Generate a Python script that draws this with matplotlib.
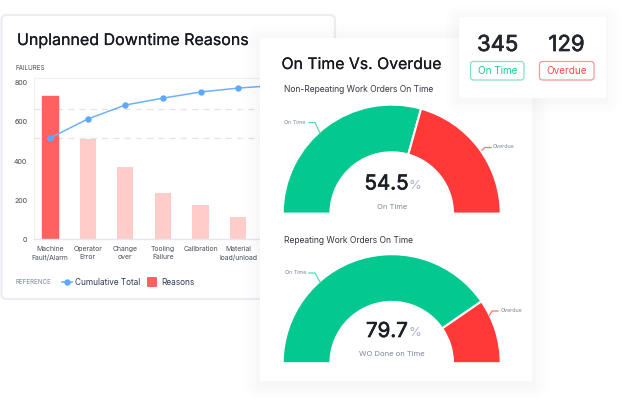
import matplotlib
matplotlib.use("Agg")
import matplotlib.pyplot as plt
import matplotlib.patheffects as pe
from matplotlib.patches import FancyBboxPatch
from matplotlib.transforms import ScaledTranslation

plt.rcParams['font.family'] = ['Inter', 'DejaVu Sans']

# ---- data ----
reasons = ["Machine\nFault/Alarm", "Operator\nError", "Change\nover", "Tooling\nFailure",
           "Calibration", "Material\nload/unload"]
failures = [721, 504, 360, 230, 170, 109]
cumulative = [509, 605, 676, 711, 742, 762, 775]
y_ticks = [0, 200, 400, 600, 800]
ref_levels = [509, 656]
gauge1_shares = [58.7, 41.3]
gauge2_shares = [80.8, 19.2]
gauge1_value = "54.5"
gauge2_value = "79.7"
on_time_count = "345"
overdue_count = "129"

GREEN = "#03C88F"
RED = "#FF3838"
W, H = 625, 405
fig = plt.figure(figsize=(W / 100, H / 100), dpi=100, facecolor="white")


def px(v):
    return v * 0.72


def bold(col, w=0.35):
    return [pe.withStroke(linewidth=w, foreground=col)]


def layer(z):
    a = fig.add_axes([0, 0, 1, 1], zorder=z)
    a.set_xlim(0, W)
    a.set_ylim(H, 0)
    a.axis("off")
    a.patch.set_alpha(0)
    return a


def box(a, x0, y0, x1, y1, r=3, **kw):
    p = FancyBboxPatch((x0 + r, y0 + r), x1 - x0 - 2 * r, y1 - y0 - 2 * r,
                       boxstyle=f"round,pad={r},rounding_size={r}", **kw)
    a.add_patch(p)
    return p


def shadow(a, x0, y0, x1, y1, spread, alpha, dy=0):
    for s in range(spread, 0, -2):
        box(a, x0 - s, y0 - s + dy, x1 + s, y1 + s + dy, r=max(s, 1),
            fc="#6A74B0", ec="none", alpha=alpha)


def axes_px(x0, y0, x1, y1, z):
    return fig.add_axes([x0 / W, 1 - y1 / H, (x1 - x0) / W, (y1 - y0) / H], zorder=z)


# ---- left card ----
bg1 = layer(0)
box(bg1, 1.5, 15, 335, 299, r=5, fc="white", ec="#ECEDF3", lw=1.6)
bg1.text(17, 40.5, "Unplanned Downtime Reasons", fontsize=px(16), color="#15181E", va="center",
         path_effects=bold("#15181E", 0.12))
bg1.text(15.5, 67.5, "FAILURES", fontsize=px(6.3), color="#4A4F5A", va="center")

ax = axes_px(33.5, 78, 322, 238.5, 1)
ax.patch.set_alpha(0)
xpos = list(range(len(reasons)))
bars = ax.bar(xpos, failures, width=0.43, color="#FFCCCA", zorder=2)
bars[0].set_color("#FF6160")
for lv in ref_levels:
    ax.axhline(lv, color="#E4E4E8", lw=0.9, dashes=(5, 4), zorder=1)
line, = ax.plot(range(len(cumulative)), cumulative, color="#6FB1F7", lw=1.1, marker="o",
                ms=3.6, mfc="#5EA9F7", mec="#5EA9F7", zorder=3)
ax.set_xlim(-0.44, 7.23)
ax.set_ylim(0, 813)
ax.set_yticks(y_ticks)
ax.set_yticklabels([str(t) for t in y_ticks], fontsize=px(7), color="#3F444D")
ax.tick_params(axis="y", length=0, pad=4.5)
for t in ax.get_yticklabels():
    t.set_transform(t.get_transform() + ScaledTranslation(0, -1.5 / 100, fig.dpi_scale_trans))
ax.set_xticks(xpos)
ax.set_xticklabels(reasons, fontsize=px(6.9), color="#4A4F5A", linespacing=1.55, va="top")
ax.tick_params(axis="x", length=0, pad=5.2)
for s in ("left", "top"):
    ax.spines[s].set_color("#F0F0F3")
    ax.spines[s].set_linewidth(0.9)
ax.spines["right"].set_visible(False)
ax.spines["bottom"].set_color("#E3E6EE")
ax.spines["bottom"].set_linewidth(1.0)

bg1.text(15.5, 282.5, "REFERENCE", fontsize=px(6.3), color="#7C8798", va="center")
bg1.plot([62, 72], [282, 282], color="#6FB1F7", lw=1.2)
bg1.plot([67], [282], "o", ms=3.6, color="#5EA9F7")
bg1.text(75, 282.5, "Cumulative Total", fontsize=px(8.2), color="#2E3A50", va="center")
box(bg1, 147, 277, 157, 287, r=1, fc="#FF6160", ec="none")
bg1.text(161, 282.5, "Reasons", fontsize=px(8.3), color="#2E3A50", va="center")

# ---- centre card ----
bg2 = layer(2)
shadow(bg2, 260, 38, 532, 381, 16, 0.0035, dy=2)
box(bg2, 260, 38, 532, 381, r=1, fc="white", ec="none")
bg2.text(281.5, 64.5, "On Time Vs. Overdue", fontsize=px(15.8), color="#15181E", va="center",
         path_effects=bold("#15181E", 0.12))
bg2.text(284, 90, "Non-Repeating Work Orders On Time", fontsize=px(8.5), color="#33373F", va="center")
bg2.text(284, 240.5, "Repeating Work Orders On Time", fontsize=px(8.5), color="#33373F", va="center")


def gauge(cx, cy, shares):
    R, r = 109.0, 61.3
    a = axes_px(cx - R, cy - R, cx + R, cy, 3)
    a.pie(list(shares) + [sum(shares)], colors=[GREEN, RED, "none"], startangle=180, counterclock=False,
          radius=1, wedgeprops=dict(width=1 - r / R, linewidth=0))
    for w in a.patches[:2]:
        w.set_edgecolor("white")
        w.set_linewidth(1.5)
    a.patches[2].set_visible(False)
    a.set_xlim(-1, 1)
    a.set_ylim(0, 1)
    a.set_aspect("auto")
    a.patch.set_alpha(0)


gauge(391.7, 213.6, gauge1_shares)
gauge(391.7, 363.2, gauge2_shares)


def gauge_text(a, val, xc, y, pct_x, sub, sub_y):
    a.text(xc, y, val, fontsize=px(20.5), color="#1C1F25", ha="center", va="center",
           path_effects=bold("#1C1F25", 0.5))
    a.text(pct_x, y + 1.5, "%", fontsize=px(13), color="#A9B4C4", ha="left", va="center")
    a.text(392, sub_y, sub, fontsize=px(7.6), color="#7C8798", ha="center", va="center")


fg = layer(4)
gauge_text(fg, gauge1_value, 386.5, 184.5, 408.5, "On Time", 207)
gauge_text(fg, gauge2_value, 387, 332, 408, "WO Done on Time", 354.5)

LEAD_G = "#5ADBB8"
LEAD_R = "#FF7373"
for txt, tx, ty, pts, col in [
    ("On Time", 284, 122, [(309, 122.5), (315, 122.5), (320, 133)], LEAD_G),
    ("Overdue", 493, 147, [(482, 150), (485, 147.5), (491, 147.5)], LEAD_R),
    ("On Time", 285, 272.5, [(309, 273), (315, 273), (320, 282)], LEAD_G),
    ("Overdue", 501, 311, [(489, 316), (492, 311), (498, 311)], LEAD_R),
]:
    fg.text(tx, ty, txt, fontsize=px(5.4), color="#7C8798", va="center")
    fg.plot([p[0] for p in pts], [p[1] for p in pts], color=col, lw=0.9)

# ---- top-right card ----
shadow(fg, 459, 17, 606, 98, 14, 0.0035, dy=2)
box(fg, 459, 17, 606, 98, r=2, fc="white", ec="none", zorder=5)
fg.text(497.5, 45, on_time_count, fontsize=px(22), color="#23262C", ha="center", va="center",
        path_effects=bold("#23262C", 0.5), zorder=6)
fg.text(566.5, 45, overdue_count, fontsize=px(22), color="#23262C", ha="center", va="center",
        path_effects=bold("#23262C", 0.5), zorder=6)
box(fg, 470.5, 61.5, 524, 80, r=3, fc="white", ec="#7FE3C6", lw=0.9, zorder=6)
box(fg, 539.5, 61.5, 594, 80, r=3, fc="white", ec="#FF9494", lw=0.9, zorder=6)
fg.text(497.3, 71, "On Time", fontsize=px(10), color="#17C996", ha="center", va="center", zorder=7)
fg.text(566.7, 71, "Overdue", fontsize=px(10), color="#FF4A4A", ha="center", va="center", zorder=7)

fig.savefig("out.png", dpi=100, facecolor="white")
